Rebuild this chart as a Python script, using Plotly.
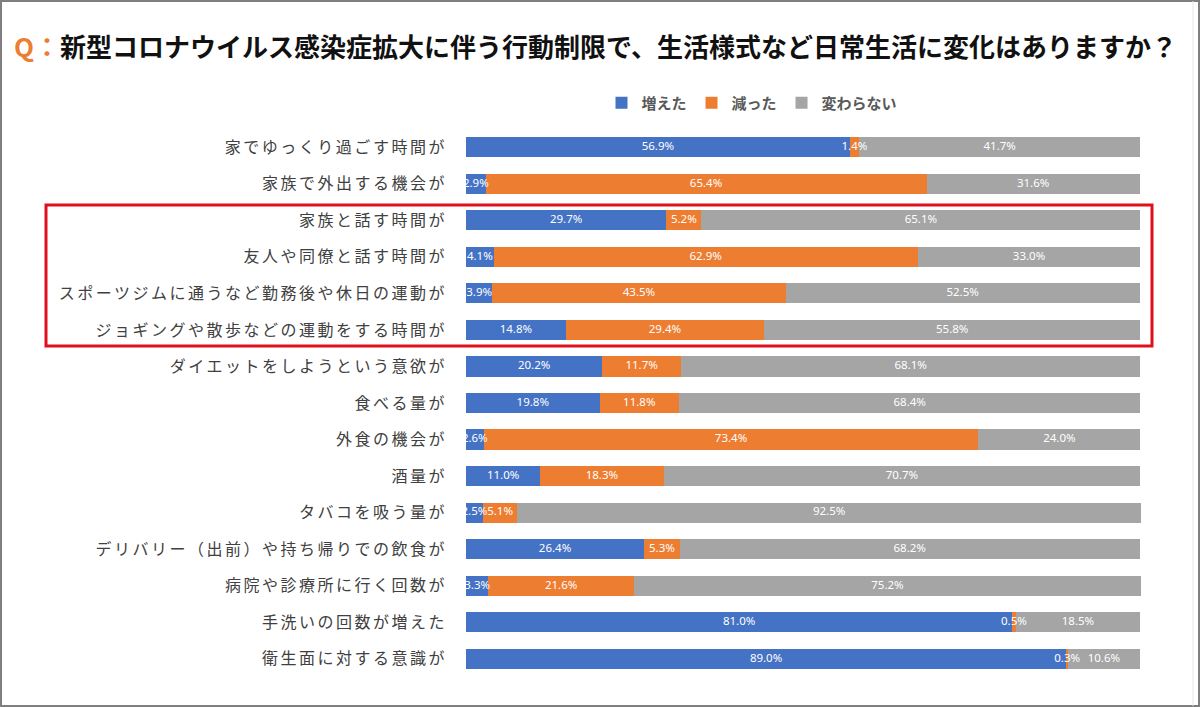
import plotly.graph_objects as go

categories = [
    "家でゆっくり過ごす時間が",
    "家族で外出する機会が",
    "家族と話す時間が",
    "友人や同僚と話す時間が",
    "スポーツジムに通うなど勤務後や休日の運動が",
    "ジョギングや散歩などの運動をする時間が",
    "ダイエットをしようという意欲が",
    "食べる量が",
    "外食の機会が",
    "酒量が",
    "タバコを吸う量が",
    "デリバリー（出前）や持ち帰りでの飲食が",
    "病院や診療所に行く回数が",
    "手洗いの回数が増えた",
    "衛生面に対する意識が",
]
increased = [56.9, 2.9, 29.7, 4.1, 3.9, 14.8, 20.2, 19.8, 2.6, 11.0, 2.5, 26.4, 3.3, 81.0, 89.0]
decreased = [1.4, 65.4, 5.2, 62.9, 43.5, 29.4, 11.7, 11.8, 73.4, 18.3, 5.1, 5.3, 21.6, 0.5, 0.3]
unchanged = [41.7, 31.6, 65.1, 33.0, 52.5, 55.8, 68.1, 68.4, 24.0, 70.7, 92.5, 68.2, 75.2, 18.5, 10.6]
series_names = ["増えた", "減った", "変わらない"]
title_q = "Q："
title_text = "新型コロナウイルス感染症拡大に伴う行動制限で、生活様式など日常生活に変化はありますか？"

colors = ["#4472C4", "#ED7D31", "#A5A5A5"]

W, H = 1200, 707
L, R, T, B = 466, 59, 129, 30
PW, PH = W - L - R, H - T - B


def px_x(px):
    return (px - L) / PW


def px_y(py):
    return (H - B - py) / PH


fig = go.Figure()
all_series = [increased, decreased, unchanged]
for name, vals, col in zip(series_names, all_series, colors):
    fig.add_trace(go.Bar(
        y=categories, x=vals, name=name, orientation="h",
        marker=dict(color=col, line=dict(width=0)),
        hoverinfo="x+name",
    ))

# data labels on top of all bars (centered in each segment)
base = [0.0] * len(categories)
for name, vals in zip(series_names, all_series):
    mids = [b + v / 2 for b, v in zip(base, vals)]
    fig.add_trace(go.Scatter(
        y=categories, x=mids, mode="text",
        text=[f"{v:.1f}%" for v in vals], textposition="middle center",
        textfont=dict(color="white", size=11.5, family="Noto Sans"),
        showlegend=False, hoverinfo="skip", cliponaxis=False,
    ))
    base = [b + v for b, v in zip(base, vals)]

n = len(categories)
fig.update_layout(
    width=W, height=H,
    barmode="stack", bargap=0.45,
    margin=dict(l=L, r=R, t=T, b=B),
    paper_bgcolor="white", plot_bgcolor="white",
    font=dict(family="Noto Sans CJK JP"),
    showlegend=True,
    legend=dict(
        orientation="h", x=px_x(752), xanchor="center", y=px_y(103), yanchor="middle",
        font=dict(size=15, color="#595959", family="Noto Sans CJK JP", weight="bold"),
        itemwidth=30, traceorder="normal", bgcolor="rgba(0,0,0,0)",
    ),
    xaxis=dict(range=[0, 100.1], visible=False, fixedrange=True),
    yaxis=dict(
        range=[n - 0.5, -0.5], showgrid=False, ticks="", showline=False, zeroline=False,
        tickfont=dict(size=16, color="#404040", family="Noto Sans CJK JP"),
        ticklabelstandoff=18, fixedrange=True,
    ),
)

fig.add_annotation(
    xref="paper", yref="paper", x=px_x(12), y=px_y(45), xanchor="left", yanchor="middle",
    showarrow=False,
    text=f"<span style='color:#ED7D31'>{title_q}</span>{title_text}",
    font=dict(size=26, color="#111111", family="Noto Sans CJK JP", weight="bold"),
)

# highlight box
fig.add_shape(type="rect", xref="paper", yref="paper",
              x0=px_x(46), x1=px_x(1152), y0=px_y(346), y1=px_y(205),
              line=dict(color="#E0101A", width=3), layer="above")
# outer frame
fig.add_shape(type="rect", xref="paper", yref="paper",
              x0=px_x(1), x1=px_x(1199), y0=px_y(706), y1=px_y(1),
              line=dict(color="#7F7F7F", width=2), layer="above")
fig.add_shape(type="line", xref="paper", yref="paper",
              x0=px_x(1193), x1=px_x(1193), y0=px_y(706), y1=px_y(1),
              line=dict(color="#E6E6E6", width=1), layer="above")

post = (
    "document.body.style.margin='0';document.body.style.overflow='hidden';"
    "document.querySelectorAll('.ytick text').forEach(function(t){t.style.letterSpacing='2.5px';});"
)
fig.write_html("out.html", config={"displayModeBar": False}, post_script=post)
